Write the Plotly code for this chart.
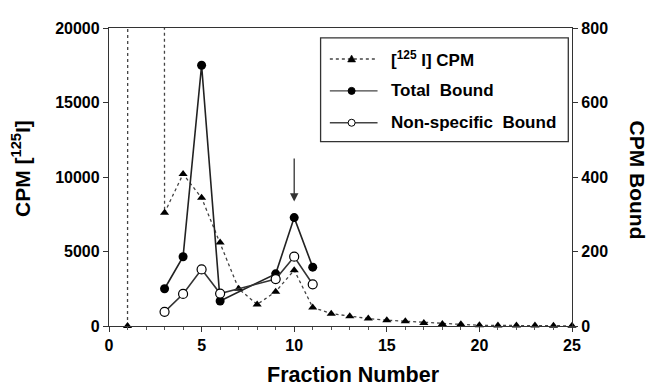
import plotly.graph_objects as go

# ---- data ----
cpm_fraction = list(range(1, 26))
cpm_values = [0, 2000000, 7600, 10200, 8600, 5600, 2500, 1450, 2300, 3750, 1250,
              830, 660, 500, 390, 320, 200, 140, 110, 50, 40, 30, 30, 20, 10]

bound_fraction = [3, 4, 5, 6, 9, 10, 11]
total_bound = [100, 186, 700, 67, 140, 291, 158]
nonspecific_bound = [38, 86, 152, 87, 126, 186, 112]

x_ticks = [0, 5, 10, 15, 20, 25]
y_left_ticks = [0, 5000, 10000, 15000, 20000]
y_right_ticks = [0, 200, 400, 600, 800]

arrow_fraction = 10
arrow_from, arrow_to = 11350, 8350

FONT = "Liberation Sans, Arial, sans-serif"

fig = go.Figure()
fig.add_trace(go.Scatter(
    x=cpm_fraction, y=cpm_values, mode="lines+markers", name="[125 I] CPM",
    line=dict(color="#444", width=1.3, dash="dot"),
    marker=dict(symbol="triangle-up", size=8, color="black"),
    cliponaxis=False, yaxis="y", showlegend=False))
fig.add_trace(go.Scatter(
    x=bound_fraction, y=total_bound, mode="lines+markers", name="Total Bound",
    line=dict(color="#222", width=1.6),
    marker=dict(symbol="circle", size=9, color="black"),
    cliponaxis=False, yaxis="y2", showlegend=False))
fig.add_trace(go.Scatter(
    x=bound_fraction, y=nonspecific_bound, mode="lines+markers", name="Non-specific Bound",
    line=dict(color="#333", width=1.6),
    marker=dict(symbol="circle", size=9, color="white", line=dict(color="black", width=1.2)),
    cliponaxis=False, yaxis="y2", showlegend=False))

annotations = []
# arrow
annotations.append(dict(x=arrow_fraction, y=arrow_to, ax=arrow_fraction, ay=arrow_from,
                        xref="x", yref="y", axref="x", ayref="y", text="", showarrow=True,
                        arrowhead=2, arrowsize=1.3, arrowwidth=1.3, arrowcolor="#333"))

# manual legend
shapes = [dict(type="rect", xref="paper", yref="paper", x0=0.457, x1=0.992, y0=0.619, y1=0.967,
               line=dict(color="#333", width=1.3), fillcolor="white", layer="above")]
rows = [0.896, 0.789, 0.682]
labels = ["[<sup>125</sup> I] CPM", "Total\u00a0 Bound", "Non-specific\u00a0 Bound"]
dashes = ["dot", "solid", "solid"]
for r, lab, d in zip(rows, labels, dashes):
    shapes.append(dict(type="line", xref="paper", yref="paper", x0=0.477, x1=0.580, y0=r, y1=r,
                       line=dict(color="#444", width=1.3, dash=d), layer="above"))
    annotations.append(dict(xref="paper", yref="paper", x=0.604, y=r, text=lab, showarrow=False,
                            xanchor="left", yanchor="middle",
                            font=dict(family=FONT, size=17, color="black", weight="bold")))
mx = 0.524
shapes.append(dict(type="path", xref="paper", yref="paper", xsizemode="pixel", ysizemode="pixel",
                   xanchor=mx, yanchor=rows[0], path="M -4,-3 L 4,-3 L 0,4 Z",
                   fillcolor="black", line=dict(color="black", width=0.5), layer="above"))
shapes.append(dict(type="circle", xref="paper", yref="paper", xsizemode="pixel", ysizemode="pixel",
                   xanchor=mx, yanchor=rows[1], x0=-3.5, x1=3.5, y0=-3.5, y1=3.5,
                   fillcolor="black", line=dict(color="black", width=1), layer="above"))
shapes.append(dict(type="circle", xref="paper", yref="paper", xsizemode="pixel", ysizemode="pixel",
                   xanchor=mx, yanchor=rows[2], x0=-3.5, x1=3.5, y0=-3.5, y1=3.5,
                   fillcolor="white", line=dict(color="black", width=1), layer="above"))

# axis titles
title_font = dict(family=FONT, size=21, color="black", weight="bold")
annotations.append(dict(xref="paper", yref="paper", x=-0.19, y=0.527, text="CPM [<sup>125</sup>I]",
                        textangle=-90, showarrow=False, xanchor="center", yanchor="middle",
                        font=title_font))
annotations.append(dict(xref="paper", yref="paper", x=1.142, y=0.489, text="CPM Bound",
                        textangle=90, showarrow=False, xanchor="center", yanchor="middle",
                        font=title_font))
annotations.append(dict(xref="paper", yref="paper", x=0.529, y=-0.165, text="Fraction Number",
                        showarrow=False, xanchor="center", yanchor="middle",
                        font=dict(family=FONT, size=21.5, color="black", weight="bold")))

tickfont = dict(family=FONT, size=16, color="black", weight="bold")
fig.update_layout(
    width=646, height=378,
    margin=dict(l=101, r=82, t=20, b=60),
    paper_bgcolor="white", plot_bgcolor="white",
    shapes=shapes, annotations=annotations,
    xaxis=dict(range=[0, 25], tickvals=x_ticks, showgrid=False, zeroline=False,
               showline=True, linecolor="#333", linewidth=1.3, mirror=True,
               ticks="outside", ticklen=5, tickcolor="#333", tickfont=tickfont,
               minor=dict(dtick=1, ticks="outside", ticklen=3, tickcolor="#555")),
    yaxis=dict(range=[0, 20000], tickvals=y_left_ticks, tickformat="d",
               showgrid=False, zeroline=False,
               showline=True, linecolor="#333", linewidth=1.3,
               ticks="outside", ticklen=5, tickcolor="#333", tickfont=tickfont),
    yaxis2=dict(range=[0, 800], tickvals=y_right_ticks, overlaying="y", side="right",
                showgrid=False, zeroline=False, showline=True, linecolor="#333", linewidth=1.3,
                ticks="outside", ticklen=5, tickcolor="#333", tickfont=tickfont),
)

fig.write_html("out.html")
